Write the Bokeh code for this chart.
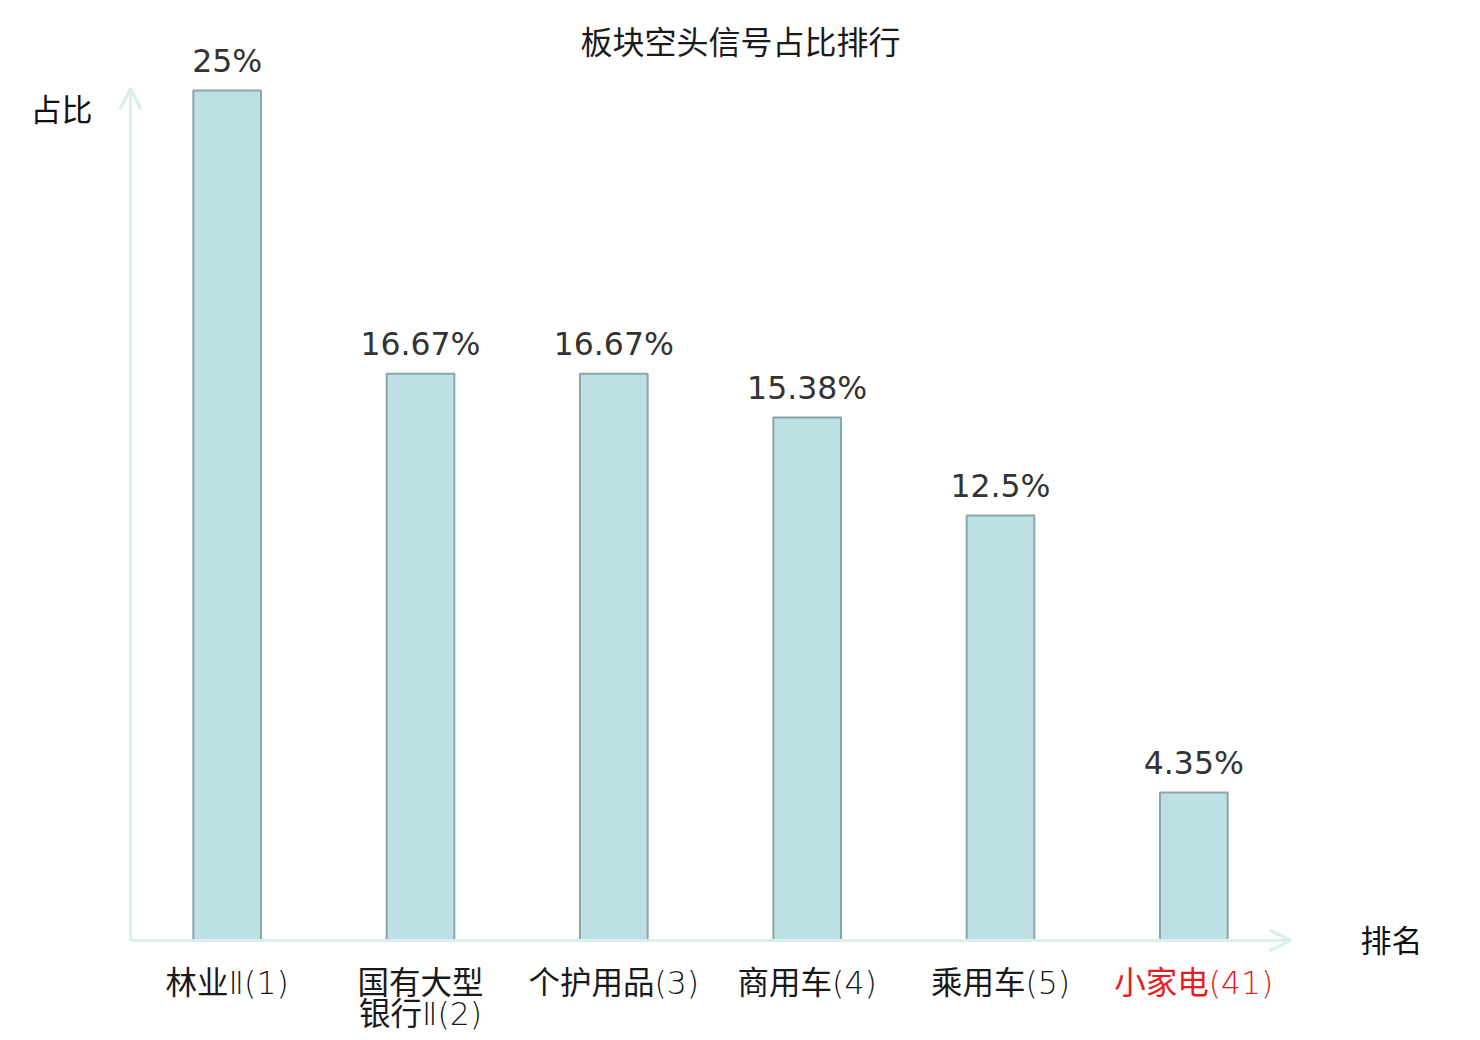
from bokeh.plotting import figure
from bokeh.models import Range1d, Arrow, OpenHead, ColumnDataSource
from bokeh.core.properties import value
from bokeh.embed import file_html
from bokeh.resources import INLINE

# ---- data ----
categories = ["林业Ⅱ(1)", "国有大型\n银行Ⅱ(2)", "个护用品(3)", "商用车(4)", "乘用车(5)", "小家电(41)"]
values = [25, 16.67, 16.67, 15.38, 12.5, 4.35]
value_labels = ["25%", "16.67%", "16.67%", "15.38%", "12.5%", "4.35%"]
label_colors = ["#1a1a1a", "#1a1a1a", "#1a1a1a", "#1a1a1a", "#1a1a1a", "#e81c1c"]
title_text = "板块空头信号占比排行"
y_name = "占比"
x_name = "排名"

# ---- layout (canvas pixels) ----
W, H = 1472, 1036
frame_left, frame_right = 130, 1290
frame_top, frame_bottom = 90, 940
n = len(categories)
ymax = max(values)
px_x = (frame_right - frame_left) / n
px_y = (frame_bottom - frame_top) / ymax
x0 = -frame_left / px_x
x1 = x0 + W / px_x
y0 = -(H - frame_bottom) / px_y
y1 = ymax + frame_top / px_y

p = figure(width=W, height=H, x_range=Range1d(x0, x1), y_range=Range1d(y0, y1),
           x_axis_type=None, y_axis_type=None, toolbar_location=None,
           output_backend="svg", min_border=0)
p.grid.visible = False
p.outline_line_color = None
p.background_fill_color = "white"
p.border_fill_color = "white"

axis_color = "#dbf0ee"
p.add_layout(Arrow(end=OpenHead(size=21, line_color=axis_color, line_width=3.5),
                   x_start=0, y_start=0, x_end=n, y_end=0,
                   line_color=axis_color, line_width=3))
p.add_layout(Arrow(end=OpenHead(size=21, line_color=axis_color, line_width=3.5),
                   x_start=0, y_start=0, x_end=0, y_end=ymax + 2 / px_y,
                   line_color=axis_color, line_width=3))

xs = [i + 0.5 for i in range(n)]
src = ColumnDataSource(dict(x=xs, top=values, lab=value_labels))
p.vbar(x="x", top="top", bottom=0, width=0.35, source=src,
       fill_color="#bce0e3", line_color="#8aa6a8", line_width=2)

p.text(x="x", y="top", text="lab", source=src, text_align="center",
       text_baseline="alphabetic", y_offset=-30, text_font=value("DejaVu Sans"),
       text_font_size="31.5px", text_color="#333333")

cat_font = value("'DejaVu Sans ExtraLight', 'DejaVu Sans Light', 'Noto Sans CJK SC'")
line1 = [c.split("\n")[0] for c in categories]
line2 = [c.split("\n")[1] if "\n" in c else "" for c in categories]
cat_src = ColumnDataSource(dict(x=xs, y=[0] * n, l1=line1, l2=line2, c=label_colors))
p.text(x="x", y="y", text="l1", source=cat_src, text_align="center", text_baseline="middle",
       y_offset=42, text_font=cat_font, text_font_size="31.5px", text_color="c")
p.text(x="x", y="y", text="l2", source=cat_src, text_align="center", text_baseline="middle",
       y_offset=73, text_font=cat_font, text_font_size="31.5px", text_color="c")

p.text(x=[x0 + 740 / px_x], y=[y1], text=[title_text], text_align="center", text_baseline="middle",
       y_offset=39, text_font=value("Noto Sans CJK SC"), text_font_size="32px", text_color="#1a1a1a")
p.text(x=[x0], y=[y1], text=[y_name], text_align="right", text_baseline="middle",
       x_offset=92, y_offset=107, text_font=value("Noto Sans CJK SC"), text_font_size="31px",
       text_color="#111111")
p.text(x=[n], y=[0], text=[x_name], text_align="left", text_baseline="middle",
       x_offset=70, y_offset=-2, text_font=value("Noto Sans CJK SC"), text_font_size="31px",
       text_color="#111111")

open("out.html", "w").write(file_html(p, INLINE))
